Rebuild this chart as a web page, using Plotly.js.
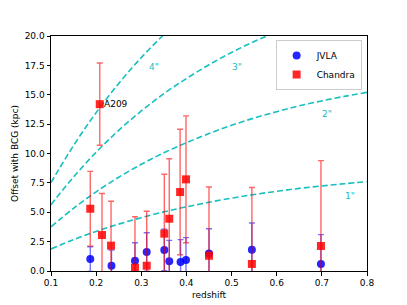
<!DOCTYPE html>
<html>
<head>
<meta charset="utf-8">
<script src="https://cdn.plot.ly/plotly-3.0.1.min.js"></script>
<style>html,body{margin:0;padding:0;background:#fff;}#chart{width:407px;height:305px;}</style>
</head>
<body>
<div id="chart"></div>
<script>
// JVLA offsets
var jvlaZ   = [0.187, 0.234, 0.286, 0.312, 0.351, 0.362, 0.387, 0.399, 0.450, 0.545, 0.698];
var jvlaOff = [1.02, 0.45, 0.88, 1.62, 1.79, 0.83, 0.77, 0.94, 1.50, 1.81, 0.60];
var jvlaErr = [1.05, 1.34, 1.53, 1.64, 1.76, 1.78, 1.90, 1.90, 2.10, 2.28, 2.50];
// Chandra offsets
var chZ   = [0.187, 0.208, 0.213, 0.233, 0.286, 0.312, 0.351, 0.362, 0.386, 0.399, 0.450, 0.545, 0.698];
var chOff = [5.30, 14.20, 3.06, 2.16, 0.28, 0.45, 3.18, 4.45, 6.72, 7.80, 1.30, 0.60, 2.13];
var chErr = [3.18, 3.50, 3.54, 3.77, 4.34, 4.63, 5.05, 5.10, 5.34, 5.40, 5.85, 6.50, 7.26];
// angular-scale curves (kpc) vs redshift
var curveZ = [0.10, 0.15, 0.20, 0.25, 0.30, 0.35, 0.40, 0.45, 0.50, 0.55, 0.60, 0.65, 0.70, 0.75, 0.80];
var arc1 = [1.88, 2.67, 3.37, 3.99, 4.54, 5.03, 5.46, 5.85, 6.20, 6.51, 6.78, 7.03, 7.24, 7.43, 7.60];
var arc2 = [3.76, 5.34, 6.74, 7.98, 9.08, 10.06, 10.92, 11.70, 12.40, 13.02, 13.56, 14.06, 14.48, 14.86, 15.20];
var arc3 = [5.64, 8.01, 10.11, 11.97, 13.62, 15.09, 16.38, 17.55, 18.60, 19.53, 20.34, 21.09, 21.72, 22.29, 22.80];
var arc4 = [7.52, 10.68, 13.48, 15.96, 18.16, 20.12, 21.84, 23.40, 24.80, 26.04, 27.12, 28.12, 28.96, 29.72, 30.40];
var curveLabels = ['1"', '2"', '3"', '4"'];
var labelZ = [0.762, 0.712, 0.512, 0.328];
var labelY = [6.4, 13.4, 17.4, 17.4];
var xTicks = [0.1, 0.2, 0.3, 0.4, 0.5, 0.6, 0.7, 0.8];
var xTickText = ['0.1', '0.2', '0.3', '0.4', '0.5', '0.6', '0.7', '0.8'];
var yTicks = [0, 2.5, 5, 7.5, 10, 12.5, 15, 17.5, 20];
var yTickText = ['0.0', '2.5', '5.0', '7.5', '10.0', '12.5', '15.0', '17.5', '20.0'];

var cyan = '#17bfbf';
var traces = [];
[arc1, arc2, arc3, arc4].forEach(function (c) {
  traces.push({x: curveZ, y: c, mode: 'lines', line: {color: cyan, dash: '6px,3px', width: 1.6, shape: 'spline'}, showlegend: false, hoverinfo: 'skip'});
});
traces.push({
  x: jvlaZ, y: jvlaOff, name: 'JVLA', mode: 'markers', type: 'scatter',
  marker: {color: 'rgba(0,0,255,0.85)', symbol: 'circle', size: 8},
  error_y: {type: 'data', array: jvlaErr, visible: true, color: 'rgba(0,0,255,0.55)', thickness: 1.4, width: 3},
  cliponaxis: true
});
traces.push({
  x: chZ, y: chOff, name: 'Chandra', mode: 'markers', type: 'scatter',
  marker: {color: 'rgba(255,0,0,0.85)', symbol: 'square', size: 8},
  error_y: {type: 'data', array: chErr, visible: true, color: 'rgba(255,0,0,0.6)', thickness: 1.4, width: 3},
  cliponaxis: true
});

var annotations = curveLabels.map(function (t, i) {
  return {x: labelZ[i], y: labelY[i], text: t, showarrow: false, font: {color: cyan, size: 9, family: 'DejaVu Sans'}};
});
annotations.push({x: chZ[1], y: chOff[1], text: 'A209', showarrow: false, xanchor: 'left', xshift: 2, font: {color: '#000', size: 9, family: 'DejaVu Sans'}});

var layout = {
  width: 407, height: 305,
  margin: {l: 51, r: 40, t: 36, b: 34},
  paper_bgcolor: '#fff', plot_bgcolor: '#fff',
  font: {family: 'DejaVu Sans', size: 9, color: '#000'},
  showlegend: true,
  legend: {x: 0.983, y: 0.983, xanchor: 'right', yanchor: 'top', bordercolor: '#cccccc', borderwidth: 1, bgcolor: 'rgba(255,255,255,0.8)', font: {size: 9}, tracegroupgap: 0, itemwidth: 30},
  xaxis: {range: [0.1, 0.8], tickvals: xTicks, ticktext: xTickText, ticks: 'outside', ticklen: 3.5, tickcolor: '#000', showline: true, linecolor: '#000', linewidth: 1, mirror: true, showgrid: false, zeroline: false, title: {text: 'redshift', standoff: 4, font: {size: 9}}},
  yaxis: {range: [0, 20], tickvals: yTicks, ticktext: yTickText, ticks: 'outside', ticklen: 3.5, tickcolor: '#000', showline: true, linecolor: '#000', linewidth: 1, mirror: true, showgrid: false, zeroline: false, title: {text: 'Offset with BCG (kpc)', standoff: 4, font: {size: 9}}},
  annotations: annotations
};
Plotly.newPlot('chart', traces, layout, {staticPlot: true});
</script>
</body>
</html>
